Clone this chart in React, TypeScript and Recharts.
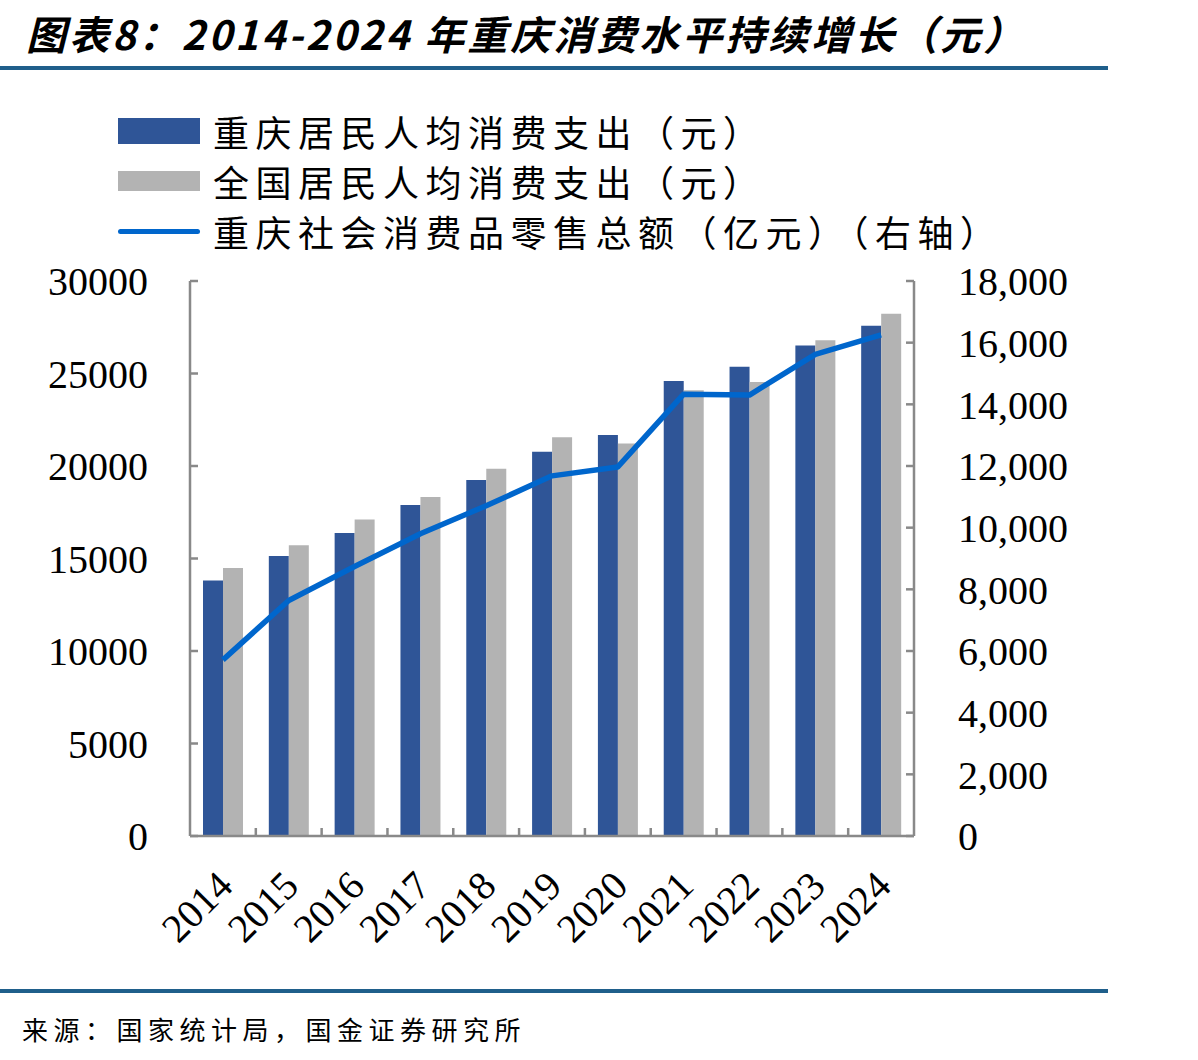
import { ComposedChart, Bar, Line, XAxis, YAxis } from "recharts";

const years = ["2014", "2015", "2016", "2017", "2018", "2019", "2020", "2021", "2022", "2023", "2024"];
// 元 per person
const cqSpending = [13811, 15140, 16385, 17898, 19248, 20774, 21678, 24598, 25371, 26515, 27582];
const nationalSpending = [14491, 15712, 17111, 18322, 19853, 21559, 21210, 24100, 24538, 26796, 28227];
// 亿元, right axis
const cqRetail = [5711, 7640, 8740, 9800, 10710, 11680, 11970, 14330, 14300, 15620, 16250];

const leftTicks = [0, 5000, 10000, 15000, 20000, 25000, 30000];
const rightTicks = [0, 2000, 4000, 6000, 8000, 10000, 12000, 14000, 16000, 18000];

const seriesNames = {
  cq: "重庆居民人均消费支出（元）",
  nat: "全国居民人均消费支出（元）",
  retail: "重庆社会消费品零售总额（亿元）（右轴）",
};

const DARK = "#2F5597";
const GRAY = "#B3B3B3";
const LINE = "#0066CC";
const AXIS = "#898989";
const RULE = "#1F5F8B";

const data = years.map((y, i) => ({
  year: y,
  cq: cqSpending[i],
  nat: nationalSpending[i],
  retail: cqRetail[i],
}));

const tickFont = { fill: "#000", fontSize: 40, fontFamily: "'Liberation Serif', 'Times New Roman', serif" };
const cjk = "'Noto Sans CJK SC', sans-serif";

// category label rotated -45deg, plus a short inward tick on the band's left edge
function YearTick(props: any) {
  const { x, y, payload } = props;
  const half = payload?.offset ?? 33;
  return (
    <g>
      {payload.index > 0 && (
        <line x1={x - half} x2={x - half} y1={y} y2={y - 8} stroke={AXIS} strokeWidth={2.5} />
      )}
      <text
        x={x + 12}
        y={y + 52}
        textAnchor="end"
        transform={`rotate(-45, ${x + 12}, ${y + 52})`}
        {...tickFont}
      >
        {payload.value}
      </text>
    </g>
  );
}

function LegendBox() {
  const row = { display: "flex", alignItems: "center", height: 50 } as const;
  const label = { fontFamily: cjk, fontSize: 36, letterSpacing: 6.5, color: "#000", marginLeft: 13 };
  return (
    <div style={{ position: "absolute", left: 118, top: 106 }}>
      <div style={row}>
        <div style={{ width: 82, height: 26, background: DARK }} />
        <span style={label}>{seriesNames.cq}</span>
      </div>
      <div style={row}>
        <div style={{ width: 82, height: 20, background: GRAY }} />
        <span style={label}>{seriesNames.nat}</span>
      </div>
      <div style={row}>
        <div style={{ width: 82, height: 5, background: LINE, borderRadius: 3 }} />
        <span style={label}>{seriesNames.retail}</span>
      </div>
    </div>
  );
}

export default function App() {
  return (
    <div style={{ position: "absolute", left: 0, top: 0, width: 1198, height: 1060, background: "#fff" }}>
      <div
        style={{
          position: "absolute",
          left: 26,
          top: 4,
          fontFamily: cjk,
          fontWeight: 700,
          fontStyle: "italic",
          fontSize: 40,
          letterSpacing: 3,
          color: "#000",
          whiteSpace: "nowrap",
        }}
      >
        图表8：2014-2024 年重庆消费水平持续增长（元）
      </div>
      <div style={{ position: "absolute", left: 0, top: 66, width: 1108, height: 4, background: RULE }} />

      <LegendBox />

      <div style={{ position: "absolute", left: 0, top: 0 }}>
        <ComposedChart
          width={1198}
          height={980}
          data={data}
          margin={{ top: 281, right: 0, bottom: 44, left: 0 }}
          barGap={0}
        >
          <XAxis
            dataKey="year"
            height={100}
            interval={0}
            axisLine={{ stroke: AXIS, strokeWidth: 2.5 }}
            tickLine={false}
            tickSize={0}
            tickMargin={0}
            tick={<YearTick />}
          />
          <YAxis
            yAxisId="left"
            width={190}
            domain={[0, 30000]}
            ticks={leftTicks}
            interval={0}
            axisLine={{ stroke: AXIS, strokeWidth: 2.5 }}
            tickLine={{ stroke: AXIS, strokeWidth: 2.5 }}
            tickSize={-8}
            tickMargin={50}
            tick={tickFont}
          />
          <YAxis
            yAxisId="right"
            orientation="right"
            width={284}
            domain={[0, 18000]}
            ticks={rightTicks}
            interval={0}
            axisLine={{ stroke: AXIS, strokeWidth: 2.5 }}
            tickLine={{ stroke: AXIS, strokeWidth: 2.5 }}
            tickSize={-8}
            tickMargin={52}
            tick={{ ...tickFont, textAnchor: "start" }}
            tickFormatter={(v: number) => v.toLocaleString("en-US")}
          />
          <Bar yAxisId="left" dataKey="cq" name={seriesNames.cq} fill={DARK} barSize={20} isAnimationActive={false} />
          <Bar yAxisId="left" dataKey="nat" name={seriesNames.nat} fill={GRAY} barSize={20} isAnimationActive={false} />
          <Line
            yAxisId="right"
            dataKey="retail"
            name={seriesNames.retail}
            type="linear"
            stroke={LINE}
            strokeWidth={5.5}
            strokeLinejoin="round"
            dot={false}
            isAnimationActive={false}
          />
        </ComposedChart>
      </div>

      <div style={{ position: "absolute", left: 0, top: 989, width: 1108, height: 4, background: RULE }} />
      <div
        style={{
          position: "absolute",
          left: 22,
          top: 1010,
          fontFamily: cjk,
          fontSize: 26,
          letterSpacing: 5.5,
          color: "#000",
          whiteSpace: "nowrap",
        }}
      >
        来源：国家统计局，国金证券研究所
      </div>
    </div>
  );
}
